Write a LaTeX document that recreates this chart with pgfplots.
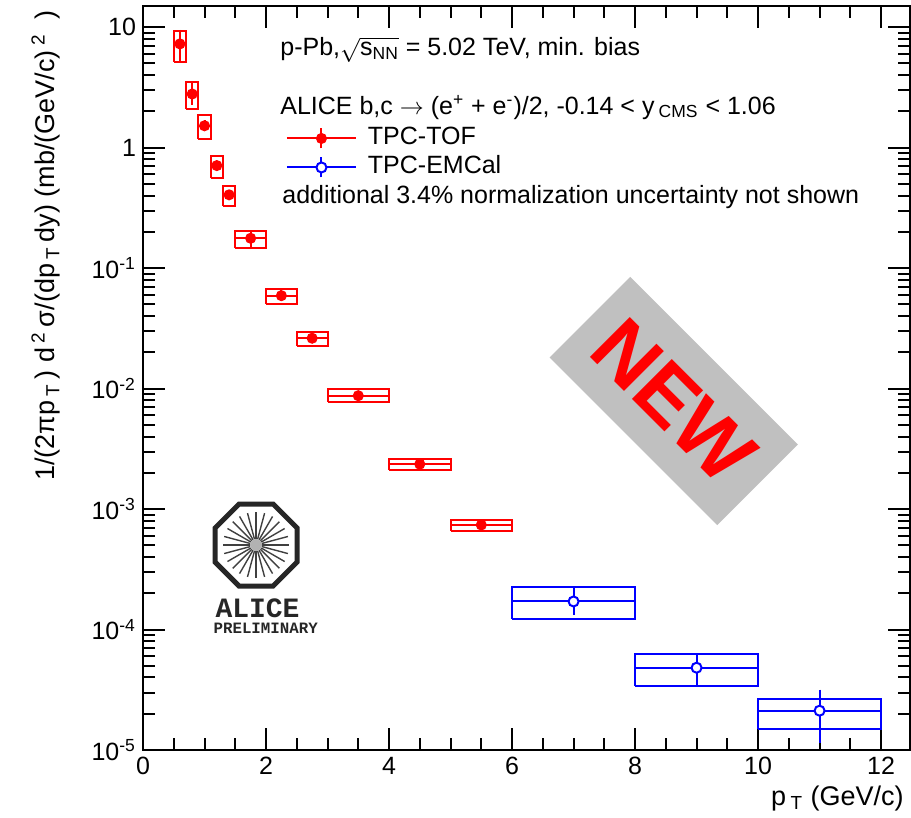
\documentclass[border=0pt]{standalone}
\usepackage{fontspec}
\setmainfont{Liberation Sans}
\setmonofont{Liberation Mono}
\usepackage{pgfplots}
\pgfplotsset{compat=1.18}
\usepackage{pgfplotstable}
\definecolor{stampgray}{RGB}{192,192,192}

\pgfplotstableread{
x y ep em
0.6 7.27 1.63 1.74
0.8 2.79 0.42 0.38
1.0 1.52 0.06 0.06
1.2 0.710 0.02 0.02
1.4 0.406 0.01 0.01
1.75 0.177 0.015 0.023
2.25 0.0591 0.002 0.002
2.75 0.0262 0.0008 0.0008
3.5 0.00873 0.0002 0.0002
4.5 0.00236 0.00006 0.00006
5.5 0.000738 0.00002 0.00002
}\tof

\pgfplotstableread{
x y ep em
7 1.71e-4 0.35e-4 0.30e-4
9 4.82e-5 1.09e-5 1.13e-5
11 2.12e-5 0.84e-5 0.89e-5
}\emc

\newcommand\fs{\fontsize{12.5pt}{15pt}\selectfont}
\newcommand\fl{\fontsize{13.5pt}{16pt}\selectfont}

\begin{document}
\begin{tikzpicture}
\path[use as bounding box] (-71.5pt,-34pt) rectangle (384pt,375pt);
\begin{axis}[
  at={(0,0)}, anchor=south west,
  scale only axis, width=383.5pt, height=372pt,
  xmin=0, xmax=12.47, ymode=log, ymin=1e-5, ymax=15,
  clip=false,
  xtick={0,2,...,12}, minor x tick num=3,
  ytick={1e-5,1e-4,1e-3,1e-2,1e-1,1,10},
  yticklabels={10\textsuperscript{-5},10\textsuperscript{-4},10\textsuperscript{-3},10\textsuperscript{-2},10\textsuperscript{-1},1,10},
  major tick length=11pt, minor tick length=6pt,
  tick style={black, line width=1pt},
  axis line style={line width=1pt},
  tick label style={font=\fs},
  /pgf/number format/assume math mode=true,
  unbounded coords=jump,
  legend style={draw=none, fill=none, at={(rel axis cs:0.1864,0.8374)}, anchor=north west,
    inner sep=0pt, outer sep=0pt, row sep=3pt, column sep=5.5pt, font=\fs,
    nodes={inner sep=0pt, text height=9pt, text depth=2.5pt}},
  legend cell align=left,
  legend image code/.code={
    \draw[#1, mark=none] (0pt,0pt) -- (34.5pt,0pt);
    \draw[#1, mark=none] (17.25pt,-5pt) -- (17.25pt,5pt);
    \draw[#1, only marks] plot coordinates {(17.25pt,0pt)};
  },
]
% systematic boxes
\addplot[red, line width=1pt, forget plot] coordinates {
(0.5,5.12) (0.7,5.12) (0.7,9.37) (0.5,9.37) (0.5,5.12) (nan,nan) (0.5,7.27) (0.7,7.27) (nan,nan)
(0.7,2.08) (0.9,2.08) (0.9,3.53) (0.7,3.53) (0.7,2.08) (nan,nan) (0.7,2.79) (0.9,2.79) (nan,nan)
(0.9,1.18) (1.1,1.18) (1.1,1.85) (0.9,1.85) (0.9,1.18) (nan,nan) (0.9,1.52) (1.1,1.52) (nan,nan)
(1.1,0.558) (1.3,0.558) (1.3,0.849) (1.1,0.849) (1.1,0.558) (nan,nan) (1.1,0.710) (1.3,0.710) (nan,nan)
(1.3,0.330) (1.5,0.330) (1.5,0.484) (1.3,0.484) (1.3,0.330) (nan,nan) (1.3,0.406) (1.5,0.406) (nan,nan)
(1.5,0.146) (2.0,0.146) (2.0,0.205) (1.5,0.205) (1.5,0.146) (nan,nan) (1.5,0.177) (2.0,0.177) (nan,nan)
(2.0,0.0501) (2.5,0.0501) (2.5,0.0671) (2.0,0.0671) (2.0,0.0501) (nan,nan) (2.0,0.0591) (2.5,0.0591) (nan,nan)
(2.5,0.0227) (3.0,0.0227) (3.0,0.0297) (2.5,0.0297) (2.5,0.0227) (nan,nan) (2.5,0.0262) (3.0,0.0262) (nan,nan)
(3.0,0.00775) (4.0,0.00775) (4.0,0.00993) (3.0,0.00993) (3.0,0.00775) (nan,nan) (3.0,0.00873) (4.0,0.00873) (nan,nan)
(4.0,0.00210) (5.0,0.00210) (5.0,0.00261) (4.0,0.00261) (4.0,0.00210) (nan,nan) (4.0,0.00236) (5.0,0.00236) (nan,nan)
(5.0,0.000658) (6.0,0.000658) (6.0,0.000817) (5.0,0.000817) (5.0,0.000658) (nan,nan) (5.0,0.000738) (6.0,0.000738)
};
\addplot[blue, line width=1pt, forget plot] coordinates {
(6,1.22e-4) (8,1.22e-4) (8,2.27e-4) (6,2.27e-4) (6,1.22e-4) (nan,nan) (6,1.71e-4) (8,1.71e-4) (nan,nan)
(8,3.40e-5) (10,3.40e-5) (10,6.27e-5) (8,6.27e-5) (8,3.40e-5) (nan,nan) (8,4.82e-5) (10,4.82e-5) (nan,nan)
(10,1.50e-5) (12,1.50e-5) (12,2.67e-5) (10,2.67e-5) (10,1.50e-5) (nan,nan) (10,2.12e-5) (12,2.12e-5)
};
% data points
\addplot[red, only marks, mark=*, mark size=2.25pt, line width=1pt,
  error bars/.cd, y dir=both, y explicit, error mark=-,
  error mark options={mark size=1.75pt, line width=1pt},
  error bar style={line width=1pt}]
  table[x=x, y=y, y error plus=ep, y error minus=em] {\tof};
\addlegendentry{TPC-TOF}
\addplot[blue, only marks, mark=*, mark size=2.5pt, line width=1pt, mark options={fill=white},
  error bars/.cd, y dir=both, y explicit, error mark=-,
  error mark options={mark size=1.75pt, line width=1pt},
  error bar style={line width=1pt}]
  table[x=x, y=y, y error plus=ep, y error minus=em] {\emc};
\addlegendentry{TPC-EMCal}

% texts
\node[anchor=base west, font=\fs, inner sep=0pt] at (rel axis cs:0.1786,0.9328)
  {p-Pb,$\sqrt{\mbox{s\textsubscript{NN}}}$ = 5.02 TeV, min. bias};
\node[anchor=base west, font=\fs, inner sep=0pt] at (rel axis cs:0.1786,0.8548)
  {ALICE b,c $\rightarrow$ (e\textsuperscript{+} + e\textsuperscript{-})/2, -0.14 < y\,\textsubscript{CMS} < 1.06};
\node[anchor=base west, font=\fs, inner sep=0pt] at (rel axis cs:0.1812,0.7339)
  {additional 3.4\% normalization uncertainty not shown};

% axis titles
\path (rel axis cs:1,0) ++(-3pt,-27.5pt) node[anchor=base east, font=\fl, inner sep=0pt]
  {p\,\textsubscript{T} (GeV/c)};
\path (rel axis cs:0,1) ++(-44pt,-2pt) node[rotate=90, anchor=base east, font=\fl, inner sep=0pt]
  {1/(2πp\,\textsubscript{T}\,) d\,\textsuperscript{2}\,σ/(dp\,\textsubscript{T}\,dy) (mb/(GeV/c)\,\textsuperscript{2}\; )};

% NEW stamp
\node[fill=stampgray, rotate=-45, minimum width=118.5pt, minimum height=57pt, inner sep=0pt,
  text=red, font=\fontsize{41pt}{41pt}\bfseries\selectfont] at (rel axis cs:0.692,0.469) {NEW};

% ALICE logo anchors
\coordinate (logoc) at (rel axis cs:0.1474,0.2755);
\node[font=\ttfamily\bfseries\fontsize{14pt}{14pt}\selectfont, inner sep=0pt, text=black!85] at (rel axis cs:0.1493,0.190) {ALICE};
\node[font=\ttfamily\bfseries\fontsize{7.9pt}{8pt}\selectfont, inner sep=0pt, text=black!85] at (rel axis cs:0.160,0.163) {PRELIMINARY};
\end{axis}
\begin{scope}[shift={(logoc)}]
  \draw[line width=2.5pt, black!85, line join=miter]
    (22.5:22.2pt) -- (67.5:22.2pt) -- (112.5:22.2pt) -- (157.5:22.2pt) -- (202.5:22.2pt)
    -- (247.5:22.2pt) -- (292.5:22.2pt) -- (337.5:22.2pt) -- cycle;
  \foreach \a in {0,15,...,345} \draw[line width=0.7pt, black!75] (\a:3pt) -- (\a:16.5pt);
  \fill[gray!60] (0,0) circle (3pt);
\end{scope}
\end{tikzpicture}
\end{document}
